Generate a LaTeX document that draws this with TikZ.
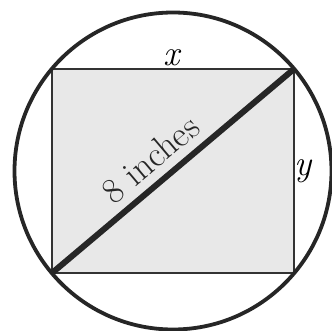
\documentclass[tikz,border=0pt]{standalone}
\usepackage{tikz}
\usetikzlibrary{calc}

\begin{document}
\begin{tikzpicture}[x=1pt, y=-1pt, font=\fontsize{36}{40}\selectfont]
  \useasboundingbox (0,0) rectangle (332,331);
  % Corners of the inscribed rectangle.
  \coordinate (bl) at (52,273);
  \coordinate (br) at (294,273);
  \coordinate (tr) at (294,69);
  \coordinate (tl) at (52,69);
  \coordinate (o)  at (173,171);
  % Shaded rectangle and the circle through its corners.
  \filldraw[fill=gray!18, draw=black!80, line width=1.8pt] (bl) -- (br) -- (tr) -- (tl) -- cycle;
  \draw[black!85, line width=3.8pt] (o) circle (158.5);
  % Diagonal with its length.
  \draw[black!85, line width=6pt] (bl) -- (tr)
    node[pos=0.47, sloped, above, inner sep=8pt] (d) {8 inches};
  % Side labels.
  \node[above, inner sep=3pt] (x) at ($(tl)!0.5!(tr)$) {\textit{x}};
  \node[right, inner sep=0pt] (y) at ($(tr)!0.5!(br)$) {\textit{y}};
\end{tikzpicture}
\end{document}
